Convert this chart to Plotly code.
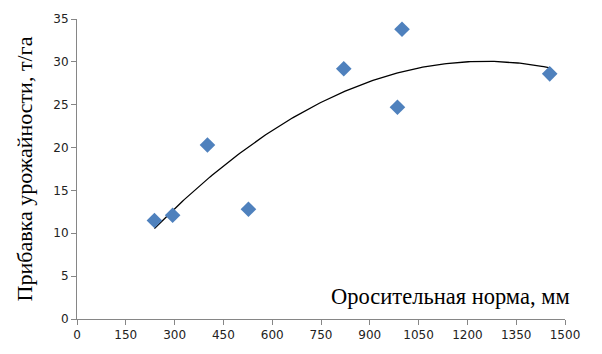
import numpy as np
import plotly.graph_objects as go

x_vals = [238, 294, 401, 527, 820, 985, 999, 1453]
y_vals = [11.5, 12.1, 20.3, 12.8, 29.2, 24.7, 33.8, 28.6]
x_ticks = list(range(0, 1501, 150))
y_ticks = list(range(0, 36, 5))

coef = np.polyfit(x_vals, y_vals, 2)
xs = np.linspace(min(x_vals), max(x_vals), 200)
ys = np.polyval(coef, xs)

fig = go.Figure()
fig.add_trace(go.Scatter(x=xs, y=ys, mode="lines",
                         line=dict(color="black", width=1.3), hoverinfo="skip"))
fig.add_trace(go.Scatter(x=x_vals, y=y_vals, mode="markers",
                         marker=dict(symbol="diamond", size=12, color="#4F81BD")))

axis_common = dict(showgrid=False, zeroline=False, showline=True,
                   linecolor="#868686", linewidth=1, ticks="outside",
                   tickcolor="#868686", ticklen=5,
                   tickfont=dict(family="DejaVu Sans", size=12, color="#222"))
fig.update_xaxes(range=[0, 1500], tickvals=x_ticks, **axis_common)
fig.update_yaxes(range=[0, 35], tickvals=y_ticks,
                 title=dict(text="Прибавка урожайности, т/га",
                            font=dict(family="Liberation Serif", size=22, color="black"),
                            standoff=14),
                 **axis_common)

fig.add_annotation(text="Оросительная норма, мм", xref="paper", yref="paper",
                   x=1.014, y=0.075, xanchor="right", yanchor="middle",
                   showarrow=False,
                   font=dict(family="Liberation Serif", size=22.5, color="black"))

fig.update_layout(width=602, height=354, showlegend=False,
                  plot_bgcolor="white", paper_bgcolor="white",
                  margin=dict(l=77, r=37, t=15, b=33))
fig.write_html("out.html")
